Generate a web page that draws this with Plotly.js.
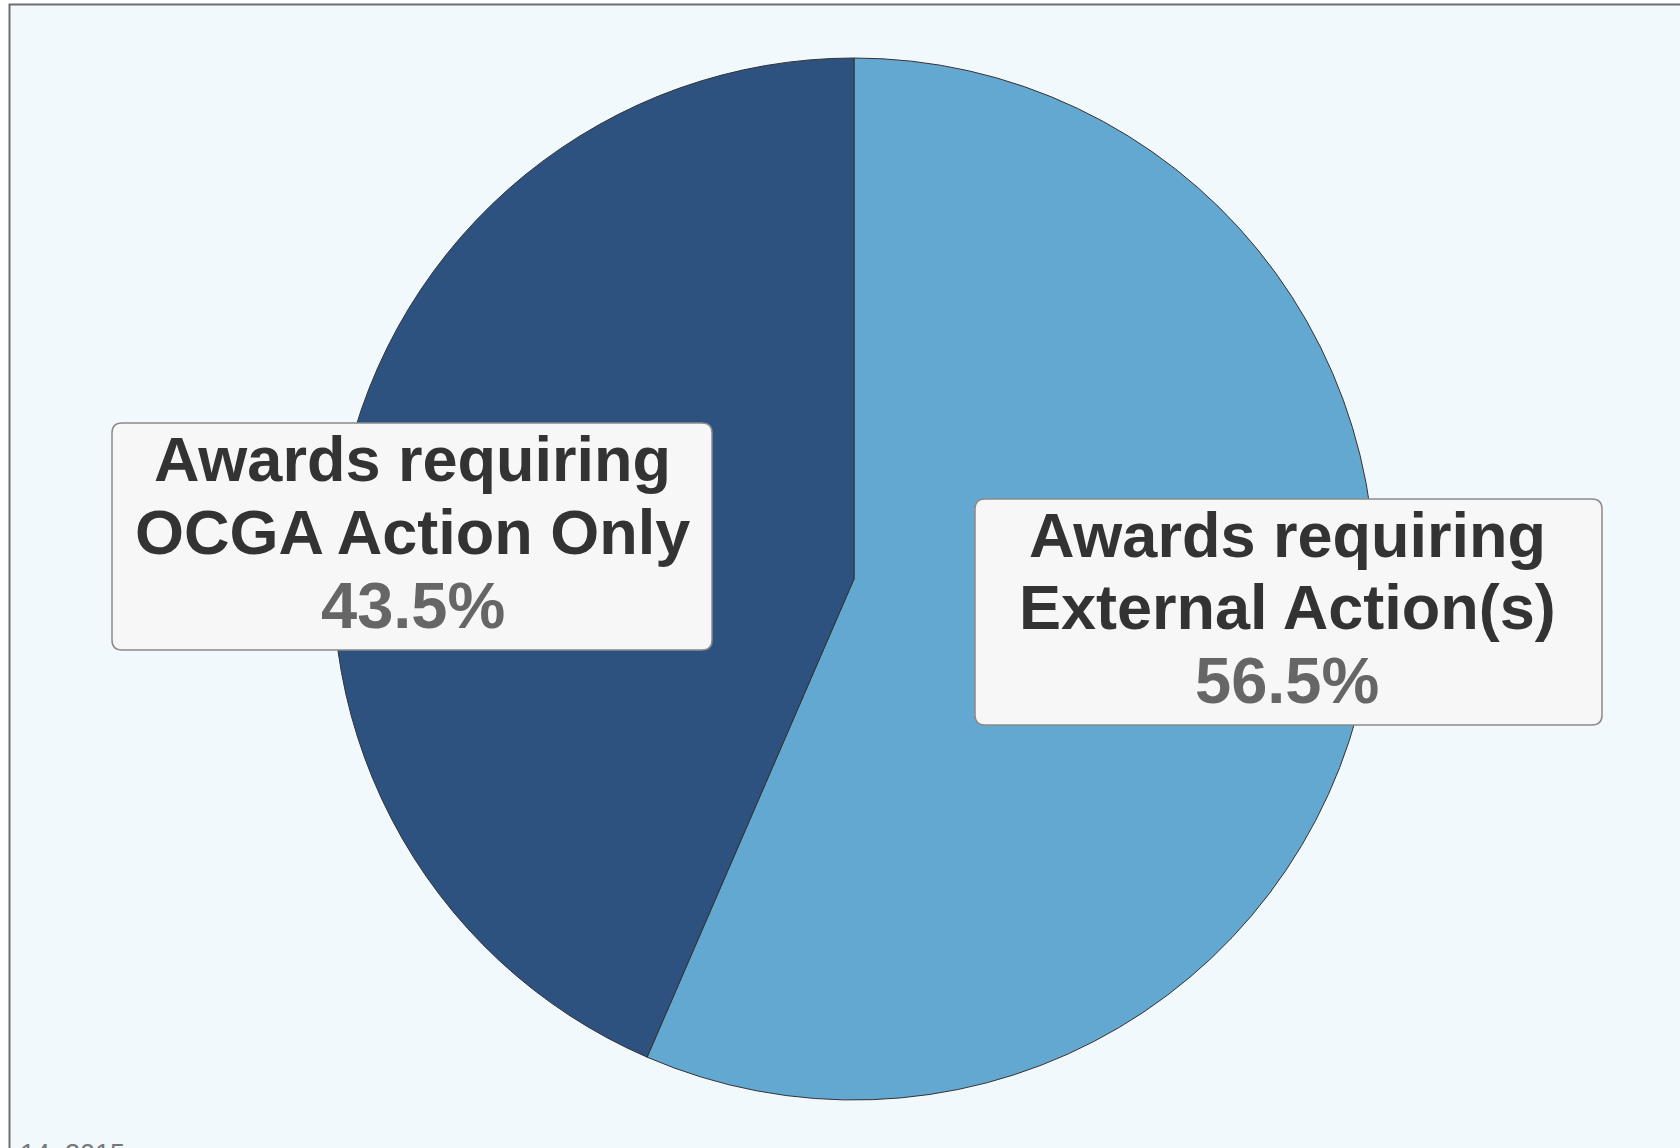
<!DOCTYPE html>
<html>
<head>
<meta charset="utf-8">
<script src="https://cdn.plot.ly/plotly-3.0.1.min.js"></script>
<style>
html,body{margin:0;padding:0;background:#ffffff;}
#chart{width:1680px;height:1148px;}
</style>
</head>
<body>
<div id="chart"></div>
<script>
// ---- data ----
var categories = ["Awards requiring External Action(s)", "Awards requiring OCGA Action Only"];
var labelLine1 = ["Awards requiring", "Awards requiring"];
var labelLine2 = ["External Action(s)", "OCGA Action Only"];
var shares = [56.5, 43.5];
var sliceColors = ["#63A8D0", "#2D5280"];
var footnote = "14, 2015";

var W = 1680, H = 1148;
function px(x){ return x / W; }
function py(y){ return (H - y) / H; }

function roundRect(x0, y0, x1, y1, r){
  // pixel coords (top-left origin) -> paper path
  var rx = r / W, ry = r / H;
  var L = px(x0), R = px(x1), T = py(y0), B = py(y1);
  return "M" + (L + rx) + "," + T +
    " L" + (R - rx) + "," + T +
    " Q" + R + "," + T + " " + R + "," + (T - ry) +
    " L" + R + "," + (B + ry) +
    " Q" + R + "," + B + " " + (R - rx) + "," + B +
    " L" + (L + rx) + "," + B +
    " Q" + L + "," + B + " " + L + "," + (B + ry) +
    " L" + L + "," + (T - ry) +
    " Q" + L + "," + T + " " + (L + rx) + "," + T + " Z";
}

var cx = 854, cy = 579, rad = 521;

var trace = {
  type: "pie",
  labels: categories,
  values: shares,
  sort: false,
  direction: "clockwise",
  rotation: 0,
  textinfo: "none",
  hoverinfo: "none",
  marker: { colors: sliceColors, line: { color: "#333333", width: 1 } },
  domain: { x: [px(cx - rad), px(cx + rad)], y: [py(cy + rad), py(cy - rad)] }
};

// label boxes (pixel layout)
var boxes = [
  { x0: 975, y0: 499, x1: 1602, y1: 725, cx: 1287, lines: [534.5, 606.5, 680.5] },
  { x0: 112, y0: 423, x1: 712, y1: 650, cx: 412.5, lines: [458.5, 531.5, 605] }
];

var shapes = [
  { type: "rect", xref: "paper", yref: "paper", layer: "below",
    x0: px(9.5), x1: 1.05, y0: -0.05, y1: py(4.5),
    fillcolor: "#F2F9FD", line: { color: "#6E6E6E", width: 2 } }
];
var annotations = [];
var fontFam = "Liberation Sans, Arial, sans-serif";

for (var i = 0; i < boxes.length; i++) {
  var b = boxes[i];
  shapes.push({ type: "path", xref: "paper", yref: "paper", layer: "above",
    path: roundRect(b.x0, b.y0, b.x1, b.y1, 10),
    fillcolor: "#F7F7F7", line: { color: "#8A8A8A", width: 1.5 } });
  var texts = [labelLine1[i], labelLine2[i], shares[i].toFixed(1) + "%"];
  var colors = ["#333333", "#333333", "#666666"];
  var sizes = [63, 63, 65];
  for (var k = 0; k < 3; k++) {
    annotations.push({
      xref: "paper", yref: "paper", x: px(b.cx), y: py(b.lines[k]),
      xanchor: "center", yanchor: "middle", showarrow: false,
      text: "<b>" + texts[k] + "</b>",
      font: { family: fontFam, size: sizes[k], color: colors[k] }
    });
  }
}

annotations.push({
  xref: "paper", yref: "paper", x: px(18), y: py(1137),
  xanchor: "left", yanchor: "top", showarrow: false,
  text: footnote,
  font: { family: fontFam, size: 27, color: "#777777" }
});

var layout = {
  width: W, height: H,
  margin: { l: 0, r: 0, t: 0, b: 0, pad: 0 },
  paper_bgcolor: "#ffffff",
  plot_bgcolor: "rgba(0,0,0,0)",
  showlegend: false,
  hovermode: false,
  shapes: shapes,
  annotations: annotations
};

Plotly.newPlot("chart", [trace], layout, { displayModeBar: false, staticPlot: true });
</script>
</body>
</html>
